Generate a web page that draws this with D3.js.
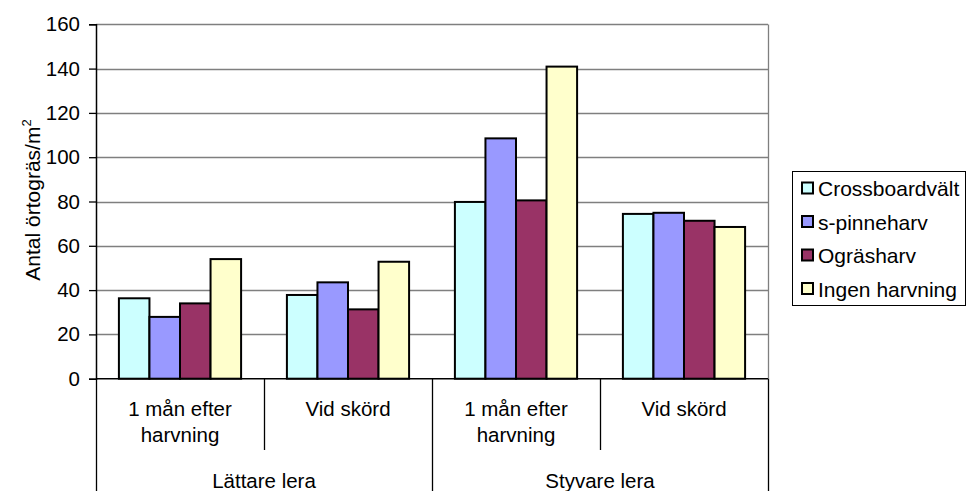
<!DOCTYPE html>
<html><head><meta charset="utf-8">
<script src="https://cdn.jsdelivr.net/npm/d3@7"></script>
<style>body{margin:0;background:#fff}svg{display:block;font-family:"Liberation Sans",Arial,sans-serif}</style>
</head><body><svg id="c" width="968" height="491"></svg>
<script>
const groups = ["Lättare lera", "Styvare lera"];
const subCategories = [["1 mån efter","harvning"],["Vid skörd"]];
const categories = ["L-1man","L-skord","S-1man","S-skord"];
const seriesNames = ["Crossboardvält","s-pinneharv","Ogräsharv","Ingen harvning"];
const crossboard = [36.3, 37.8, 79.8, 74.4];
const spinne = [27.9, 43.5, 108.5, 74.9];
const ograsharv = [34.0, 31.3, 80.5, 71.3];
const ingen = [54.0, 52.8, 140.9, 68.5];
const yTicks = [0,20,40,60,80,100,120,140,160];
const colors = ["#CCFFFF","#9999FF","#993366","#FFFFCC"];

const seriesValues = [crossboard, spinne, ograsharv, ingen];
const svg = d3.select("#c");
const L = 96, R = 768, T = 24.3, B = 378.7;
const FS = 20.5;

const y = d3.scaleLinear().domain([0,160]).range([B,T]);
const x0 = d3.scaleBand().domain(categories).range([L,R]).paddingInner(0).paddingOuter(0);
const x1 = d3.scaleBand().domain(seriesNames).range([0,x0.bandwidth()]).paddingInner(0).paddingOuter(0.75);
const xg = d3.scaleBand().domain(groups).range([L,R]);

// gridlines
svg.append("g").selectAll("line").data(yTicks.filter(d=>d>0)).join("line")
  .attr("x1",L).attr("x2",R).attr("y1",d=>Math.round(y(d))+0.5).attr("y2",d=>Math.round(y(d))+0.5)
  .attr("stroke","#7f7f7f").attr("stroke-width",1.3);
// right border
svg.append("line").attr("x1",R+0.5).attr("x2",R+0.5).attr("y1",Math.round(T)+0.5).attr("y2",B)
  .attr("stroke","#7f7f7f").attr("stroke-width",1.3);

// bars
const gBars = svg.append("g");
seriesNames.forEach((s,si)=>{
  gBars.append("g").selectAll("rect").data(seriesValues[si]).join("rect")
    .attr("x",(d,i)=>x0(categories[i])+x1(s))
    .attr("y",d=>y(d))
    .attr("width",x1.bandwidth())
    .attr("height",d=>B-y(d))
    .attr("fill",colors[si]).attr("stroke","#000").attr("stroke-width",2);
});

// y axis
const yAxis = d3.axisLeft(y).tickValues(yTicks).tickSize(7).tickPadding(9).tickFormat(d3.format("d"));
const ga = svg.append("g").attr("transform",`translate(${L},0)`).call(yAxis);
ga.select(".domain").attr("stroke","#000").attr("stroke-width",1.5);
ga.selectAll(".tick line").attr("stroke","#000").attr("stroke-width",1.3);
ga.selectAll(".tick text").attr("font-size",FS).attr("fill","#000").attr("font-family","Liberation Sans, Arial, sans-serif");

// x axis line
svg.append("line").attr("x1",L).attr("x2",R).attr("y1",B).attr("y2",B).attr("stroke","#000").attr("stroke-width",1.5);

// category dividers
const innerBounds = categories.map(c=>x0(c)).concat([R]);
svg.append("g").selectAll("line").data(innerBounds).join("line")
  .attr("x1",d=>Math.round(d)+0.5).attr("x2",d=>Math.round(d)+0.5)
  .attr("y1",B).attr("y2",(d,i)=> (i%2===0) ? 491 : 450)
  .attr("stroke","#000").attr("stroke-width",1.3);

// sub category labels
const subLabels = categories.map((c,i)=>subCategories[i%2]);
const gl = svg.append("g").attr("font-size",FS).attr("fill","#000").attr("text-anchor","middle");
subLabels.forEach((lines,i)=>{
  const cx = x0(categories[i]) + x0.bandwidth()/2;
  lines.forEach((t,j)=>{
    gl.append("text").attr("x",cx).attr("y",416+j*26).text(t);
  });
});
groups.forEach(g=>{
  gl.append("text").attr("x",xg(g)+xg.bandwidth()/2).attr("y",488).text(g);
});

// y label
const yl = svg.append("text").attr("transform","translate(40,200) rotate(-90)")
  .attr("text-anchor","middle").attr("font-size",21).attr("fill","#000");
yl.append("tspan").text("Antal örtogräs/m");
yl.append("tspan").attr("font-size",13).attr("dy",-9).text("2");

// legend
const lg = svg.append("g");
lg.append("rect").attr("x",792.5).attr("y",171.5).attr("width",173).attr("height",134)
  .attr("fill","#fff").attr("stroke","#000").attr("stroke-width",1);
seriesNames.forEach((s,i)=>{
  const cy = 188.5 + i*33.5;
  lg.append("rect").attr("x",802).attr("y",cy-6).attr("width",11).attr("height",11)
    .attr("fill",colors[i]).attr("stroke","#000").attr("stroke-width",2);
  lg.append("text").attr("x",818).attr("y",cy+7.5).attr("font-size",21).attr("fill","#000").text(s);
});
</script></body></html>
